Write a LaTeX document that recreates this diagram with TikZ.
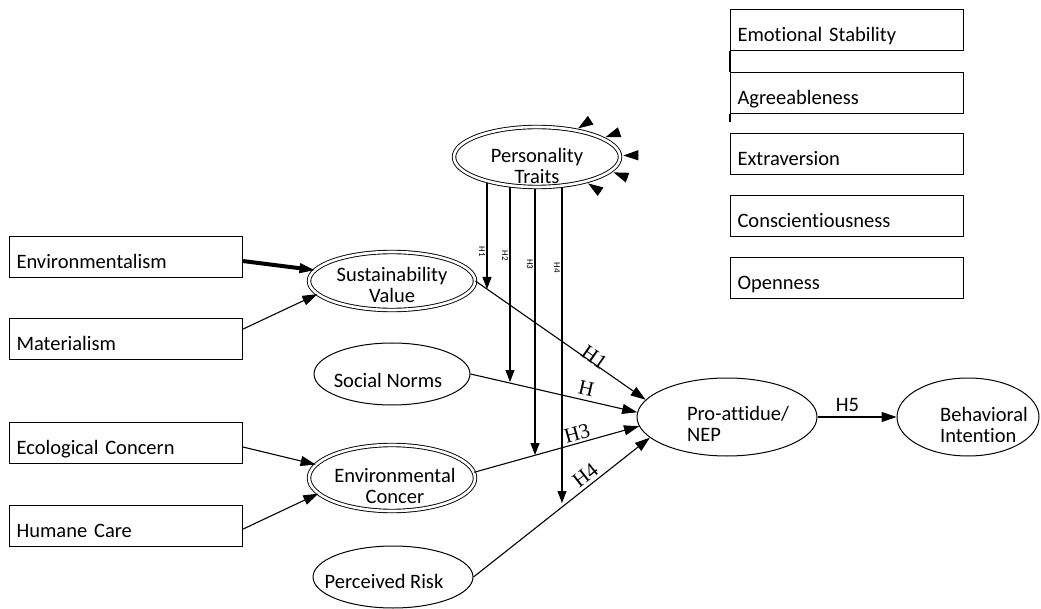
\documentclass[tikz,border=0pt]{standalone}
\usepackage{fontspec}
\setmainfont{Carlito}[Ligatures=NoCommon]
\newfontfamily\hypfont{Liberation Serif}
\usetikzlibrary{shapes.geometric,arrows.meta,calc,backgrounds}

\tikzset{
  factor/.style={draw, line width=1.1pt, rectangle, anchor=north west,
    minimum width=233pt, text width=219pt, inner xsep=7pt, inner ysep=0pt,
    text height=32pt, text depth=9pt, align=left},
  latent/.style={draw, ellipse, line width=1pt, fill=white, inner sep=0pt},
  dlatent/.style={latent, double, double distance=2.6pt, line width=0.9pt},
  effect/.style={draw, line width=1.1pt, -{Triangle[length=15pt,width=10pt,line width=1pt]}},
  modpath/.style={draw, line width=1.1pt, -{Triangle[length=12pt,width=9pt,line width=1pt]}},
  hyp/.style={font=\hypfont\fontsize{21}{21}\selectfont, sloped, inner sep=0pt},
  modlbl/.style={rotate=-90, anchor=north, inner sep=1.5pt, font=\fontsize{9}{9}\selectfont}
}

\begin{document}
\begin{tikzpicture}[x=1pt,y=-1pt,font=\fontsize{20.5}{21}\selectfont]
\useasboundingbox (0,0) rectangle (1041,609);

% big five boxes
\node[factor] (es) at (730,9) {Emotional Stability};
\node[factor] (ag) at (730,72) {Agreeableness};
\node[factor] (ex) at (730,133) {Extraversion};
\node[factor] (co) at (730,195) {Conscientiousness};
\node[factor] (op) at (730,257) {Openness};
\draw[line width=1.1pt] (es.south west) -- (ag.north west);
\draw[line width=1.1pt] (ag.south west) -- ++(0,8);

% antecedent boxes
\node[factor] (en) at (9,236) {Environmentalism};
\node[factor] (ma) at (9,318) {Materialism};
\node[factor] (eco) at (9,422) {Ecological Concern};
\node[factor] (hc) at (9,505) {Humane Care};

% constructs
\node[dlatent, minimum width=166pt, minimum height=60pt,
  label={[align=center,yshift=-9pt]center:Personality\\Traits}] (pt) at (537,157) {};
\node[dlatent, minimum width=166pt, minimum height=58pt,
  label={[align=center,yshift=-4pt]center:Sustainability\\Value}] (sv) at (392,281) {};
\node[latent, minimum width=156pt, minimum height=62pt,
  label={[xshift=-4pt,yshift=-6pt]center:Social Norms}] (sn) at (392,374) {};
\node[dlatent, minimum width=166pt, minimum height=66pt,
  label={[align=center,xshift=3pt,yshift=-8pt]center:Environmental\\Concer}] (ec) at (392,478) {};
\node[latent, minimum width=160pt, minimum height=62pt,
  label={[xshift=-9pt,yshift=-4pt]center:Perceived Risk}] (pr) at (393,577) {};
\node[latent, minimum width=180pt, minimum height=78pt,
  label={[align=left,xshift=11pt,yshift=-7pt]center:Pro-attidue/\\NEP}] (pa) at (727,417) {};
\node[latent, minimum width=142pt, minimum height=78pt,
  label={[align=left,xshift=16pt,yshift=-8pt]center:Behavioral\\Intention}] (bi) at (968,417) {};

% inputs
\draw[effect, line width=4pt] ([yshift=-4pt]en.east) -- (sv.172);
\draw[effect] ([yshift=10pt]ma.east) -- (sv.-170);
\draw[effect] ([yshift=-4pt]eco.east) -- (ec.170);
\draw[effect] ([yshift=-3pt]hc.east) -- (ec.-168);

% hypotheses
\draw[effect] (sv.east) -- node[hyp, above=-2pt, pos=.68] {H1} (pa.168);
\draw[effect] (sn.east) -- node[hyp, above=4pt, pos=.68] {H} (pa.177);
\draw[effect] (ec.4) -- node[hyp, above=2pt, pos=.64] {H3} (pa.-174);
\draw[effect] (pr.east) -- node[hyp, above=3pt, pos=.67] {H4} (pa.-165);
\draw[effect] (pa.east) -- node[above=1pt, pos=.38] {H5} (bi.west);

% loose heads from the traits
\foreach \a/\b in {35/es, 16/ag, 1/ex, -11/co, -27/op}
  \draw[effect] ($(pt.\a)!18pt!(\b.west)$) -- ($(pt.\a)!3pt!(\b.west)$);

% moderation
\coordinate (m1) at (487,289);
\coordinate (m2) at (510,382);
\coordinate (m3) at (535,455);
\coordinate (m4) at (562,503);
\begin{scope}[on background layer]
\draw[modpath] (m1 |- pt.center) -- node[modlbl, pos=.72] {H1} (m1);
\draw[modpath] (m2 |- pt.center) -- node[modlbl, pos=.44] {H2} (m2);
\draw[modpath] (m3 |- pt.center) -- node[modlbl, pos=.36] {H3} (m3);
\draw[modpath] (m4 |- pt.center) -- node[modlbl, pos=.32] {H4} (m4);
\end{scope}
\end{tikzpicture}
\end{document}
